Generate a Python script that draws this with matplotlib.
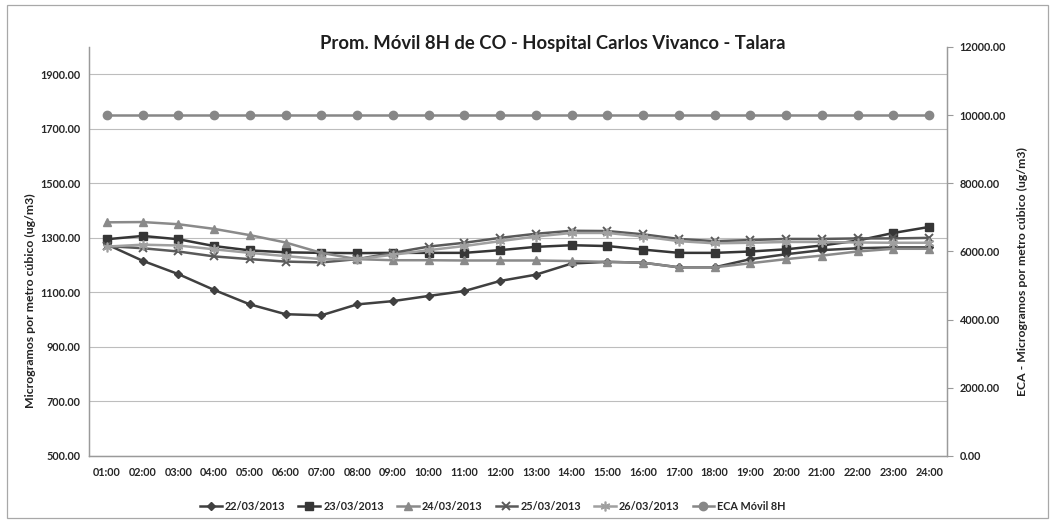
import matplotlib
matplotlib.use("Agg")
import matplotlib.pyplot as plt
from matplotlib.patches import Rectangle
from matplotlib.ticker import FormatStrFormatter, FixedLocator

plt.rcParams['font.family'] = ['Lato', 'DejaVu Sans']

hours = ["%02d:00" % h for h in range(1, 25)]

s22 = [1276, 1216, 1167, 1109, 1056, 1020, 1016, 1056, 1068, 1087, 1105, 1142,
       1165, 1206, 1212, 1209, 1192, 1192, 1222, 1240, 1255, 1262, 1265, 1265]
s23 = [1295, 1307, 1295, 1270, 1254, 1247, 1245, 1244, 1245, 1245, 1245, 1255,
       1267, 1273, 1270, 1257, 1245, 1245, 1250, 1258, 1272, 1290, 1318, 1340]
s24 = [1357, 1358, 1350, 1333, 1310, 1283, 1245, 1222, 1218, 1218, 1217, 1217,
       1217, 1215, 1212, 1209, 1192, 1192, 1207, 1222, 1235, 1250, 1260, 1260]
s25 = [1270, 1262, 1250, 1232, 1222, 1213, 1210, 1222, 1245, 1268, 1282, 1300,
       1315, 1326, 1325, 1313, 1296, 1288, 1292, 1296, 1296, 1298, 1298, 1300]
s26 = [1268, 1275, 1272, 1258, 1245, 1233, 1222, 1222, 1238, 1255, 1270, 1288,
       1305, 1318, 1318, 1305, 1288, 1280, 1282, 1285, 1285, 1283, 1282, 1282]
eca = [10000] * 24

labels = ["22/03/2013", "23/03/2013", "24/03/2013", "25/03/2013", "26/03/2013", "ECA Móvil 8H"]
left_ticks = [500, 700, 900, 1100, 1300, 1500, 1700, 1900]
right_ticks = [0, 2000, 4000, 6000, 8000, 10000, 12000]

W, H = 1059, 520
fig = plt.figure(figsize=(W / 100, H / 100), dpi=100)
ax = fig.add_axes([89 / W, 1 - 456 / H, (947 - 89) / W, (456 - 47) / H])
ax2 = ax.twinx()

x = list(range(len(hours)))
lw = 1.8
h1, = ax.plot(x, s22, color='#404040', lw=lw, marker='D', ms=4.5, label=labels[0])
h2, = ax.plot(x, s23, color='#363636', lw=lw, marker='s', ms=6, label=labels[1])
h3, = ax.plot(x, s24, color='#8a8a8a', lw=lw, marker='^', ms=6, label=labels[2])
h4, = ax.plot(x, s25, color='#5a5a5a', lw=lw, marker='x', ms=6, mew=1.4, label=labels[3])
h5, = ax.plot(x, s26, color='#a0a0a0', lw=lw, marker=(6, 2, 0), ms=7, mew=1.2, label=labels[4])
h6, = ax2.plot(x, eca, color='#878787', lw=lw, marker='o', ms=6, label=labels[5])

ax.set_xlim(-0.5, len(hours) - 0.5)
ax.set_ylim(500, 2000)
ax.yaxis.set_major_locator(FixedLocator(left_ticks))
ax.yaxis.set_major_formatter(FormatStrFormatter('%.2f'))
ax2.set_ylim(0, 12000)
ax2.yaxis.set_major_locator(FixedLocator(right_ticks))
ax2.yaxis.set_major_formatter(FormatStrFormatter('%.2f'))

ax.set_xticks(x)
ax.set_xticklabels(hours)
ax.grid(axis='y', color='#bdbdbd', lw=0.8)
ax.set_axisbelow(True)

tick_col = '#262626'
for a in (ax, ax2):
    a.spines['top'].set_visible(False)
    for s in ('left', 'right', 'bottom'):
        a.spines[s].set_color('#9a9a9a')
        a.spines[s].set_linewidth(0.9)
ax.tick_params(axis='x', length=0, pad=8, labelsize=7.8, labelcolor=tick_col)
ax.tick_params(axis='y', length=0, pad=6, labelsize=7.8, labelcolor=tick_col)
ax2.tick_params(axis='y', length=4, color='#9a9a9a', pad=5, labelsize=7.8, labelcolor=tick_col)
for lab in ax.get_xticklabels() + ax.get_yticklabels() + ax2.get_yticklabels():
    lab.set_fontweight('bold')

fig.text(553 / W, 1 - 43 / H, "Prom. Móvil 8H de CO - Hospital Carlos Vivanco - Talara",
         ha='center', va='center', fontsize=13.3, fontweight='bold', color='#1e1e1e')
fig.text(30 / W, 1 - 301 / H, "Microgramos por metro cúbico (ug/m3)", rotation=90,
         ha='center', va='center', fontsize=8.8, color='#222222', fontweight='bold')
fig.text(1022 / W, 1 - 272 / H, "ECA - Microgramos por metro cúbico (ug/m3)", rotation=90,
         ha='center', va='center', fontsize=8.8, color='#222222', fontweight='bold')

leg = fig.legend(handles=[h1, h2, h3, h4, h5, h6], loc='center', ncol=6,
                 bbox_to_anchor=(493 / W, 1 - 506 / H), frameon=False,
                 fontsize=7.8, handlelength=2.0, columnspacing=1.2, handletextpad=0.3)
for t in leg.get_texts():
    t.set_fontweight('bold')
    t.set_color('#262626')

fig.patches.append(Rectangle((7 / W, 2 / H), (1048 - 7) / W, (515 - 2) / H,
                             transform=fig.transFigure, fill=False,
                             edgecolor='#a8a8a8', lw=0.9))

fig.savefig("out.png", dpi=100, facecolor='white')
